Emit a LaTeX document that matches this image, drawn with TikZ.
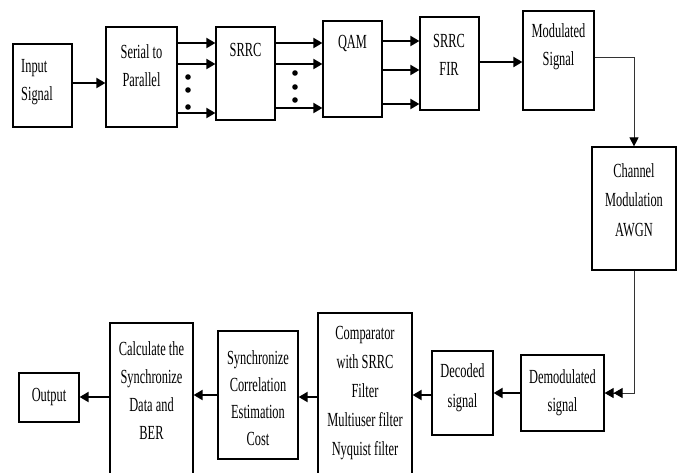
\documentclass[tikz,border=0pt]{standalone}
\usepackage{fontspec}
\setmainfont[FakeStretch=0.62]{Liberation Serif}
\usetikzlibrary{arrows.meta}

\tikzset{
  blk/.style={draw, line width=1.2pt, inner sep=0pt},
  txt/.style={align=center, inner sep=0pt, font=\fontsize{20}{28}\selectfont},
  arr/.style={line width=2pt, -{Triangle[length=9pt,width=10pt]}},
  wire/.style={line width=1pt, draw=black!80},
}

\begin{document}
\begin{tikzpicture}[x=1pt, y=-1pt]
        \fill[white] (0,0) rectangle (679,472);
        \clip (0,0) rectangle (679,472);

        % Transmitter blocks
        \node[blk, minimum width=59pt, minimum height=83pt] (in) at (42.5,85.5) {};
        \node[blk, minimum width=71pt, minimum height=100pt] (sp) at (141.5,77) {};
        \node[blk, minimum width=59pt, minimum height=93pt] (srrc) at (245.5,73.5) {};
        \node[blk, minimum width=59pt, minimum height=96pt] (qam) at (352.5,69) {};
        \node[blk, minimum width=59pt, minimum height=93pt] (fir) at (449.5,63.5) {};
        \node[blk, minimum width=71pt, minimum height=99pt] (mod) at (558.5,60.5) {};
        \node[blk, minimum width=84pt, minimum height=123pt] (chan) at (634,208.5) {};

        % Receiver blocks
        \node[blk, minimum width=83pt, minimum height=76pt] (demod) at (562.5,393) {};
        \node[blk, minimum width=61pt, minimum height=84pt] (dec) at (462.5,393) {};
        \node[blk, minimum width=94pt, minimum height=167pt] (comp) at (365,396.5) {};
        \node[blk, minimum width=80pt, minimum height=128pt] (sync) at (258,395) {};
        \node[blk, minimum width=83pt, minimum height=157pt] (calc) at (151.5,401.5) {};
        \node[blk, minimum width=60pt, minimum height=49pt] (out) at (49,397.5) {};

        % Texts
        \node[txt, align=left, anchor=west] (in-t) at (21,82.5) {Input\\Signal};
        \node[txt] (sp-t) at (141.5,66) {Serial to\\Parallel};
        \node[txt] (srrc-t) at (245.5,50) {SRRC};
        \node[txt] (qam-t) at (352.5,43) {QAM};
        \node[txt] (fir-t) at (449,54.5) {SRRC\\FIR};
        \node[txt] (mod-t) at (558.5,47) {Modulated\\Signal};
        \node[txt, font=\fontsize{20}{29.5}\selectfont] (chan-t) at (634,200) {Channel\\Modulation\\AWGN};
        \node[txt] (demod-t) at (562.5,392.5) {Demodulated\\signal};
        \node[txt, font=\fontsize{20}{30}\selectfont] (dec-t) at (462.5,388) {Decoded\\signal};
        \node[txt, font=\fontsize{20}{29}\selectfont] (comp-t) at (365,393.5) {Comparator\\with SRRC\\Filter\\Multiuser filter\\Nyquist filter};
        \node[txt, font=\fontsize{20}{27}\selectfont] (sync-t) at (258,398) {Synchronize\\Correlation\\Estimation\\Cost};
        \node[txt] (calc-t) at (151.5,390.5) {Calculate the\\Synchronize\\Data and\\BER};
        \node[txt] (out-t) at (49,397) {Output};

        % Arrows on the top row
        \draw[arr] (in.east |- 0,83) -- (sp.west |- 0,83);
        \foreach \y in {43,64,113} {
            \draw[arr] (sp.east |- 0,\y) -- (srrc.west |- 0,\y);
        }
        \foreach \y in {43,64,108} {
            \draw[arr] (srrc.east |- 0,\y) -- (qam.west |- 0,\y);
        }
        \foreach \y in {41,70,104} {
            \draw[arr] (qam.east |- 0,\y) -- (fir.west |- 0,\y);
        }
        \draw[arr] (fir.east |- 0,62) -- (mod.west |- 0,62);

        % Dots
        \foreach \y in {77,90,107} {
            \fill (188,\y) circle (2.8pt);
        }
        \foreach \y in {73,87,100} {
            \fill (295,\y) circle (2.8pt);
        }

        % Channel
        \draw[wire, -{Triangle[length=9pt,width=9pt,color=black]}] (mod.east |- 0,57) -| (chan.north);
        \draw[wire, -{Triangle[length=9pt,width=10pt,color=black]Triangle[length=9pt,width=10pt,color=black]}] (chan.south) |- (demod.east);

        % Arrows on the bottom row
        \draw[arr] (demod.west) -- (dec.east);
        \draw[arr] (dec.west |- 0,395) -- (comp.east |- 0,395);
        \draw[arr] (comp.west |- 0,397) -- (sync.east |- 0,397);
        \draw[arr] (sync.west |- 0,395) -- (calc.east |- 0,395);
        \draw[arr] (calc.west |- 0,397) -- (out.east |- 0,397);
    \end{tikzpicture}
\end{document}
